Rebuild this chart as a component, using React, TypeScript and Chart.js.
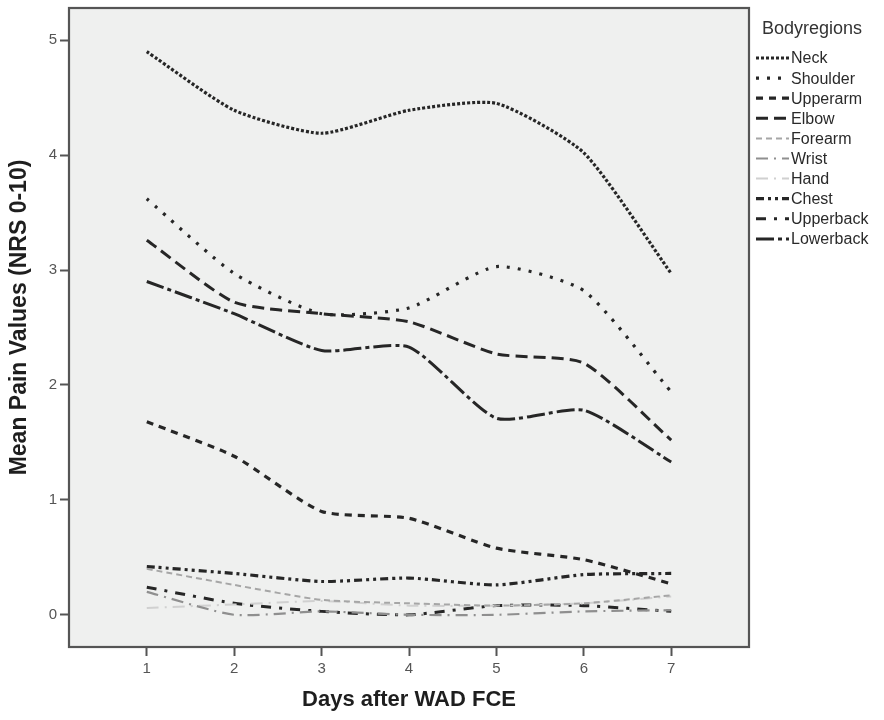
import React, { useEffect, useRef } from "react";
import { Chart, registerables } from "chart.js";

Chart.register(...registerables);

const days = [1, 2, 3, 4, 5, 6, 7];
const yTicks = [0, 1, 2, 3, 4, 5];

const neck = [4.9, 4.39, 4.19, 4.39, 4.45, 4.02, 2.97];
const shoulder = [3.62, 2.97, 2.62, 2.67, 3.03, 2.82, 1.94];
const upperarm = [1.68, 1.38, 0.9, 0.84, 0.58, 0.48, 0.27];
const elbow = [3.26, 2.72, 2.62, 2.55, 2.27, 2.19, 1.52];
const forearm = [0.4, 0.26, 0.13, 0.1, 0.08, 0.1, 0.17];
const wrist = [0.2, 0.0, 0.03, 0.0, 0.0, 0.03, 0.04];
const hand = [0.06, 0.09, 0.12, 0.08, 0.08, 0.1, 0.16];
const chest = [0.42, 0.36, 0.29, 0.32, 0.26, 0.35, 0.36];
const upperback = [0.24, 0.1, 0.03, 0.0, 0.08, 0.08, 0.03];
const lowerback = [2.9, 2.62, 2.3, 2.33, 1.71, 1.78, 1.33];

const seriesNames = ["Neck", "Shoulder", "Upperarm", "Elbow", "Forearm", "Wrist", "Hand", "Chest", "Upperback", "Lowerback"];
const seriesValues = [neck, shoulder, upperarm, elbow, forearm, wrist, hand, chest, upperback, lowerback];
const seriesColors = ["#262626", "#262626", "#262626", "#262626", "#a6a6a6", "#8f8f8f", "#d0d0d0", "#262626", "#262626", "#262626"];
const seriesDash = [
  [3, 2],
  [3, 8],
  [7, 6],
  [12, 6],
  [6, 4],
  [12, 6, 2, 6],
  [12, 6, 2, 6],
  [8, 4, 3, 4, 3, 4],
  [10, 8, 3, 8],
  [18, 4, 4, 4],
];
const seriesWidth = [3.2, 3.2, 3.2, 3, 2, 2.2, 2, 3.2, 3, 3];

const legendTitle = "Bodyregions";
const xTitle = "Days after WAD FCE";
const yTitle = "Mean Pain Values (NRS 0-10)";

const framePlugin = {
  id: "framePlugin",
  beforeDatasetsDraw(chart: any) {
    const { ctx, chartArea } = chart;
    ctx.save();
    ctx.fillStyle = "#eff0ef";
    ctx.fillRect(chartArea.left, chartArea.top, chartArea.right - chartArea.left, chartArea.bottom - chartArea.top);
    ctx.restore();
  },
  afterDraw(chart: any) {
    const { ctx, chartArea } = chart;
    ctx.save();
    ctx.strokeStyle = "#555555";
    ctx.lineWidth = 2.2;
    ctx.strokeRect(chartArea.left, chartArea.top, chartArea.right - chartArea.left, chartArea.bottom - chartArea.top);

    // axis titles
    ctx.fillStyle = "#1e1e1e";
    ctx.font = "bold 22px 'Liberation Sans', Arial, sans-serif";
    ctx.textAlign = "center";
    ctx.textBaseline = "middle";
    ctx.fillText(xTitle, (chartArea.left + chartArea.right) / 2, 700);
    ctx.save();
    ctx.translate(20, (chartArea.top + chartArea.bottom) / 2 - 10);
    ctx.rotate(-Math.PI / 2);
    ctx.font = "bold 23px 'Liberation Sans', Arial, sans-serif";
    ctx.fillText(yTitle, 0, 0);
    ctx.restore();

    // legend
    ctx.textAlign = "left";
    ctx.fillStyle = "#333333";
    ctx.font = "18px 'Liberation Sans', Arial, sans-serif";
    ctx.fillText(legendTitle, 762, 29);
    ctx.font = "16px 'Liberation Sans', Arial, sans-serif";
    seriesNames.forEach((name, i) => {
      const y = 58 + i * 20.1;
      ctx.save();
      ctx.strokeStyle = seriesColors[i];
      ctx.lineWidth = seriesWidth[i];
      ctx.setLineDash(seriesDash[i]);
      ctx.beginPath();
      ctx.moveTo(756, y);
      ctx.lineTo(789, y);
      ctx.stroke();
      ctx.restore();
      ctx.fillStyle = "#2a2a2a";
      ctx.fillText(name, 791, y + 1);
    });
    ctx.restore();
  },
};

export default function App() {
  const canvasRef = useRef<HTMLCanvasElement | null>(null);

  useEffect(() => {
    const canvas = canvasRef.current;
    if (!canvas) return;
    const chart = new Chart(canvas, {
      type: "line",
      data: {
        datasets: seriesNames.map((name, i) => ({
          label: name,
          data: days.map((d, j) => ({ x: d, y: seriesValues[i][j] })),
          borderColor: seriesColors[i],
          borderWidth: seriesWidth[i],
          borderDash: seriesDash[i],
          pointRadius: 0,
          fill: false,
          tension: 0.2,
        })),
      },
      options: {
        responsive: false,
        animation: false,
        layout: { padding: { top: 8, right: 135, left: 0, bottom: 0 } },
        plugins: {
          legend: { display: false },
          tooltip: { enabled: false },
          title: { display: false },
        },
        scales: {
          x: {
            type: "linear",
            min: 0.11,
            max: 7.89,
            afterBuildTicks: (scale: any) => {
              scale.ticks = days.map((d) => ({ value: d }));
            },
            afterFit: (scale: any) => {
              scale.height = 73;
            },
            grid: {
              drawOnChartArea: false,
              drawTicks: true,
              tickLength: 9,
              tickWidth: 2,
              tickColor: "#555555",
            },
            border: { display: false },
            ticks: {
              color: "#555555",
              padding: 4,
              font: { family: "'Liberation Sans', Arial, sans-serif", size: 15 },
              callback: (v: any) => String(v),
            },
          },
          y: {
            type: "linear",
            min: -0.28,
            max: 5.28,
            afterBuildTicks: (scale: any) => {
              scale.ticks = yTicks.map((d) => ({ value: d }));
            },
            afterFit: (scale: any) => {
              scale.width = 69;
              scale.paddingTop = 0;
              scale.paddingBottom = 0;
            },
            grid: {
              drawOnChartArea: false,
              drawTicks: true,
              tickLength: 9,
              tickWidth: 2,
              tickColor: "#555555",
            },
            border: { display: false },
            ticks: {
              color: "#555555",
              padding: 3,
              font: { family: "'Liberation Sans', Arial, sans-serif", size: 15 },
              callback: (v: any) => String(v),
            },
          },
        },
      },
      plugins: [framePlugin],
    });
    return () => chart.destroy();
  }, []);

  return (
    <div style={{ position: "absolute", left: 0, top: 0, width: 884, height: 720, background: "#ffffff" }}>
      <canvas ref={canvasRef} width={884} height={720} style={{ width: 884, height: 720 }} />
    </div>
  );
}
